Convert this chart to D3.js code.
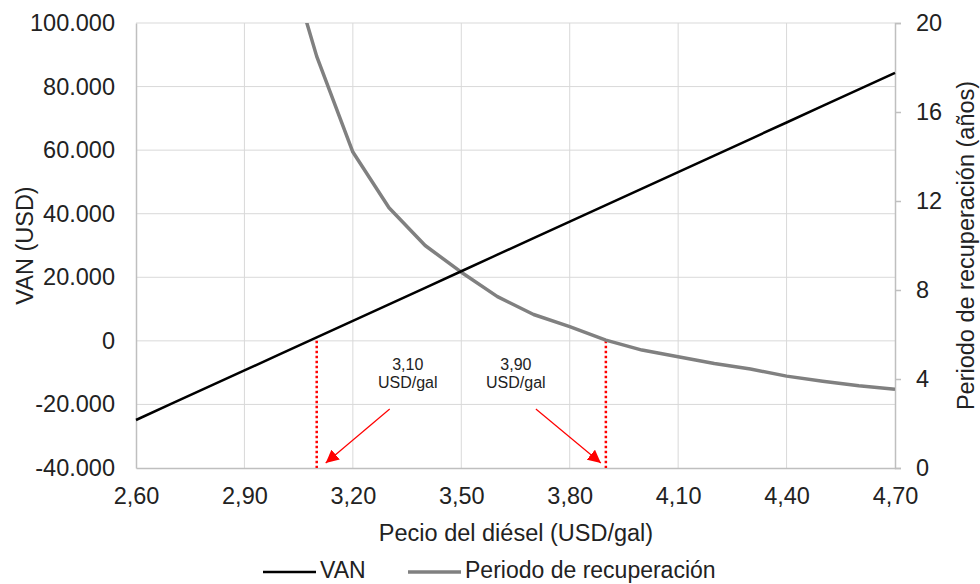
<!DOCTYPE html>
<html lang="es">
<head>
  <meta charset="UTF-8">
  <title>VAN y periodo de recuperación</title>
  <script src="https://d3js.org/d3.v7.min.js"></script>
  <style>
    body {
      margin: 0;
      background: #fff;
      font-family: "Liberation Sans", Arial, sans-serif;
    }
    .tick text {
      font-size: 23.5px;
      fill: #222;
    }
    .grid line {
      stroke: #d9d9d9;
    }
  </style>
</head>
<body>
  <svg id="chart" width="980" height="584"></svg>

  <script>
    // Datos
    const precios = [2.6, 2.7, 2.8, 2.9, 3.0, 3.1, 3.2, 3.3, 3.4, 3.5, 3.6,
                     3.7, 3.8, 3.9, 4.0, 4.1, 4.2, 4.3, 4.4, 4.5, 4.6, 4.7];
    const van = [-24900, -19700, -14500, -9300, -4100, 1100, 6300, 11500, 16700, 21900, 27100,
                 32300, 37500, 42700, 47900, 53100, 58300, 63500, 68700, 73900, 79100, 84300];
    const periodo = [null, null, null, null, 24, 18.5, 14.2, 11.7, 10.0, 8.8, 7.7,
                     6.9, 6.35, 5.75, 5.3, 5.0, 4.7, 4.45, 4.13, 3.9, 3.7, 3.54];
    const xTicks = [2.6, 2.9, 3.2, 3.5, 3.8, 4.1, 4.4, 4.7];
    const yTicks = [-40000, -20000, 0, 20000, 40000, 60000, 80000, 100000];
    const y2Ticks = [0, 4, 8, 12, 16, 20];
    const umbrales = [3.1, 3.9];
    const umbralTexto = ["3,10", "3,90"];

    const mIzq = 136, mDer = 895, mSup = 23, mInf = 468;
    const svg = d3.select("#chart");

    const x = d3.scaleLinear().domain([2.6, 4.7]).range([mIzq, mDer]);
    const y = d3.scaleLinear().domain([-40000, 100000]).range([mInf, mSup]);
    const y2 = d3.scaleLinear().domain([0, 20]).range([mInf, mSup]);

    const coma = d => d3.format(".2f")(d).replace(".", ",");
    const miles = d => d3.format(",")(d).replace(/,/g, ".").replace("\u2212", "-");

    // Rejilla
    svg.append("g").attr("class", "grid")
      .selectAll("line").data(yTicks.slice(1)).join("line")
      .attr("x1", mIzq).attr("x2", mDer)
      .attr("y1", d => y(d)).attr("y2", d => y(d));
    svg.append("g").attr("class", "grid")
      .selectAll("line").data(xTicks.slice(1, -1)).join("line")
      .attr("x1", d => x(d)).attr("x2", d => x(d))
      .attr("y1", mSup).attr("y2", mInf);

    // Ejes
    const ejeY = svg.append("g")
      .attr("transform", `translate(${mIzq},0)`)
      .call(d3.axisLeft(y).tickValues(yTicks).tickFormat(miles).tickSize(0).tickPadding(21));
    const ejeY2 = svg.append("g")
      .attr("transform", `translate(${mDer},0)`)
      .call(d3.axisRight(y2).tickValues(y2Ticks).tickSize(6).tickPadding(15));
    const ejeX = svg.append("g")
      .attr("transform", `translate(0,${mInf})`)
      .call(d3.axisBottom(x).tickValues(xTicks).tickFormat(coma).tickSize(0).tickPadding(19));
    [ejeY, ejeY2, ejeX].forEach(g => {
      g.select(".domain").attr("stroke", "#bfbfbf").attr("stroke-width", 1.5);
      g.selectAll(".tick line").attr("stroke", "#bfbfbf").attr("stroke-width", 1.5);
      g.selectAll("text").style("font-family", "'Liberation Sans', Arial, sans-serif");
    });

    // Títulos de ejes
    svg.append("text")
      .attr("transform", `translate(25,${(mSup + mInf) / 2}) rotate(-90)`)
      .attr("text-anchor", "middle").attr("dy", "0.35em")
      .style("font-size", "23.5px").style("fill", "#222")
      .text("VAN (USD)");
    svg.append("text")
      .attr("transform", `translate(966,${(mSup + mInf) / 2}) rotate(-90)`)
      .attr("text-anchor", "middle").attr("dy", "0.35em")
      .style("font-size", "23.5px").style("fill", "#222")
      .text("Periodo de recuperación (años)");
    svg.append("text")
      .attr("x", 516).attr("y", 541)
      .attr("text-anchor", "middle")
      .style("font-size", "23.5px").style("fill", "#222")
      .text("Pecio del diésel (USD/gal)");

    // Recorte del área de trazado
    svg.append("clipPath").attr("id", "area")
      .append("rect").attr("x", mIzq).attr("y", mSup)
      .attr("width", mDer - mIzq).attr("height", mInf - mSup);

    const datos = precios.map((p, i) => ({ p, van: van[i], per: periodo[i] }));

    // Líneas rojas punteadas
    svg.append("g").selectAll("line").data(umbrales).join("line")
      .attr("x1", d => x(d)).attr("x2", d => x(d))
      .attr("y1", y(0)).attr("y2", mInf)
      .attr("stroke", "#ff0000").attr("stroke-width", 2.5)
      .attr("stroke-dasharray", "2.5,2.5");

    // Serie periodo
    svg.append("path")
      .datum(datos.filter(d => d.per !== null))
      .attr("clip-path", "url(#area)")
      .attr("fill", "none").attr("stroke", "#808080").attr("stroke-width", 3.5)
      .attr("stroke-linejoin", "round")
      .attr("d", d3.line().x(d => x(d.p)).y(d => y2(d.per)));

    // Serie VAN
    svg.append("path")
      .datum(datos)
      .attr("fill", "none").attr("stroke", "#000").attr("stroke-width", 2.5)
      .attr("d", d3.line().x(d => x(d.p)).y(d => y(d.van)));

    // Anotaciones
    svg.append("defs").append("marker")
      .attr("id", "flecha").attr("viewBox", "0 0 10 10")
      .attr("refX", 10).attr("refY", 5)
      .attr("markerWidth", 13).attr("markerHeight", 13)
      .attr("markerUnits", "userSpaceOnUse")
      .attr("orient", "auto")
      .append("path").attr("d", "M0,0L10,5L0,10z").attr("fill", "#ff0000");

    const notas = svg.append("g").selectAll("g").data(umbrales).join("g");
    notas.append("text")
      .attr("x", (d, i) => x(d) + (i === 0 ? 91 : -90))
      .attr("y", 370)
      .attr("text-anchor", "middle")
      .style("font-size", "16px").style("fill", "#222")
      .text((d, i) => umbralTexto[i]);
    notas.append("text")
      .attr("x", (d, i) => x(d) + (i === 0 ? 91 : -90))
      .attr("y", 388)
      .attr("text-anchor", "middle")
      .style("font-size", "16px").style("fill", "#222")
      .text("USD/gal");
    notas.append("line")
      .attr("x1", (d, i) => x(d) + (i === 0 ? 73 : -70))
      .attr("y1", 409)
      .attr("x2", (d, i) => x(d) + (i === 0 ? 9 : -5))
      .attr("y2", 463)
      .attr("stroke", "#ff0000").attr("stroke-width", 1.2)
      .attr("marker-end", "url(#flecha)");

    // Leyenda
    const leyenda = [
      { nombre: "VAN", color: "#000", w: 2.5, x0: 263 },
      { nombre: "Periodo de recuperación", color: "#808080", w: 3.5, x0: 408 }
    ];
    const ley = svg.append("g").selectAll("g").data(leyenda).join("g")
      .attr("transform", d => `translate(${d.x0},572)`);
    ley.append("line")
      .attr("x1", 0).attr("x2", 53)
      .attr("stroke", d => d.color).attr("stroke-width", d => d.w);
    ley.append("text")
      .attr("x", 57).attr("y", 6)
      .style("font-size", "23px").style("fill", "#222")
      .text(d => d.nombre);
  </script>
</body>
</html>
